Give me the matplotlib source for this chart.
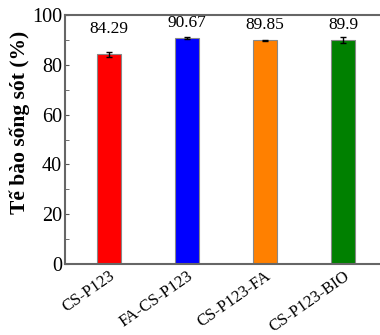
import matplotlib
matplotlib.use("Agg")
import matplotlib.pyplot as plt
import numpy as np

samples = ["CS-P123", "FA-CS-P123", "CS-P123-FA", "CS-P123-BIO"]
viability = [84.29, 90.67, 89.85, 89.9]
err = [1.0, 0.4, 0.3, 1.3]
labels = ["84.29", "90.67", "89.85", "89.9"]
colors = ["#ff0000", "#0000ff", "#ff8000", "#008000"]

plt.rcParams["font.family"] = ["Liberation Serif", "DejaVu Serif"]

fig = plt.figure(figsize=(3.8, 3.35), dpi=100)
ax = fig.add_axes([0.171, 0.212, 0.848, 0.743])
x = np.arange(len(samples))
ax.bar(x, viability, 0.31, yerr=err, color=colors, edgecolor="#888888",
       linewidth=0.8, capsize=2.5, error_kw=dict(elinewidth=1, capthick=1))
# value labels: first one sits just over its bar, others share a row
for xi, v, t in zip(x, viability, labels):
    ax.text(xi, max(v + 4.4, 92.8), t, ha="center", va="baseline", fontsize=12.5)
ax.set_xlim(-0.565, 3.565)
ax.set_ylim(0, 100)
ax.set_yticks(np.arange(0, 101, 20))
ax.set_yticks(np.arange(10, 100, 20), minor=True)
ax.tick_params(axis="y", which="both", direction="in", labelsize=14.5, length=3,
               color="#555555", pad=2)
ax.tick_params(axis="x", length=0, labelsize=12, pad=3)
ax.set_xticks(x)
ax.set_xticklabels(samples, rotation=35, ha="right", rotation_mode="anchor")
ax.set_ylabel("Tế bào sống sót (%)", fontsize=15.5, fontweight="bold")
ax.yaxis.set_label_coords(-0.108, 0.57)
for s in ax.spines.values():
    s.set_color("#666666")
    s.set_linewidth(1.5)
fig.savefig("out.png", dpi=100)
